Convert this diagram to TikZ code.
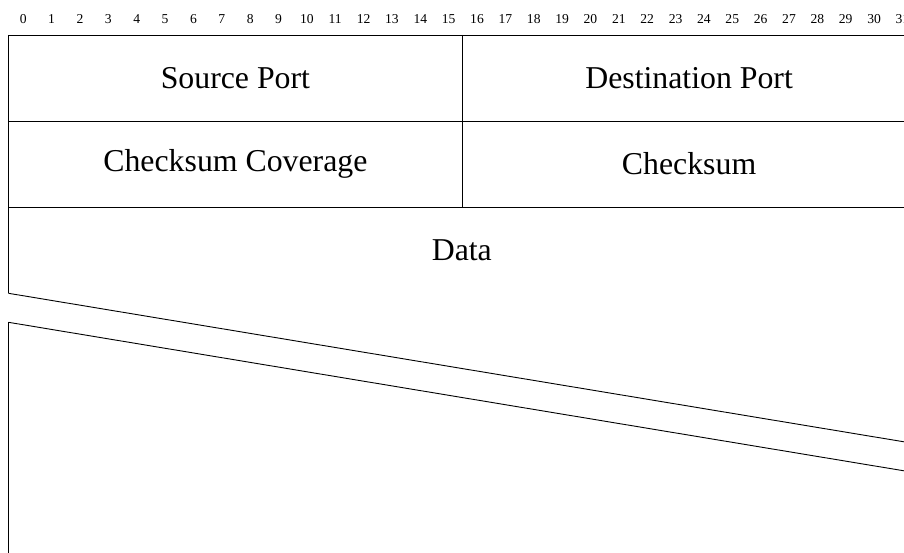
\documentclass[tikz,border=0pt]{standalone}
\usepackage{fontspec}
\setmainfont{Liberation Serif}
\begin{document}
\begin{tikzpicture}[x=1pt,y=-1pt,line width=0.9pt,
  bitnum/.style={inner sep=0pt,anchor=base,font=\fontsize{13.6}{15}\selectfont},
  field/.style={inner sep=0pt,anchor=base,font=\fontsize{31.8}{38}\selectfont}]
\useasboundingbox (0,0) rectangle (904,553);
\clip (0,0) rectangle (904,553);
\def\L{8.5}
\def\R{916}
\def\M{462.3}
\foreach \i in {0,...,31}
  \node[bitnum] (b\i) at ({8.5+28.36*(\i+0.5)+0.6},23.5) {\i};
% rows
\draw (\L,35) -- (\R,35);
\draw (\L,121) -- (\R,121);
\draw (\L,207) -- (\R,207);
\draw (\M,35) -- (\M,207);
\draw (\L,35) -- (\L,293.3);
\draw (\R,35) -- (\R,443.8);
% skipped words
\draw (\L,293.3) -- (\R,443.8);
\draw (\L,322.3) -- (\R,472.8);
\draw (\L,322.3) -- (\L,560);
\draw (\R,472.8) -- (\R,560);
% labels
\node[field] (src) at (235.4,89) {Source Port};
\node[field] (dst) at (689.1,89) {Destination Port};
\node[field] (cov) at (235.4,172) {Checksum Coverage};
\node[field] (chk) at (689.1,175) {Checksum};
\node[field] (data) at (461.8,260.5) {Data};
\end{tikzpicture}
\end{document}
